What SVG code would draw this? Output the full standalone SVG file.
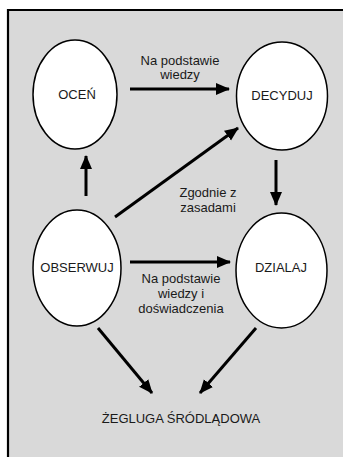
<svg xmlns="http://www.w3.org/2000/svg" width="343" height="457" viewBox="0 0 343 457">
<style>
.node ellipse{fill:#fff;stroke:#000;stroke-width:1.5}
text{font-family:"Liberation Sans",Arial,sans-serif;font-size:13px;fill:#1a1a1a;text-anchor:middle}
.conn line{stroke:#000;stroke-width:3;marker-end:url(#ah)}
</style>
<defs>
<marker id="ah" markerUnits="userSpaceOnUse" markerWidth="14" markerHeight="14" viewBox="0 0 14 14" refX="13" refY="7" orient="auto">
<path d="M0,1 L14,7 L0,13 Z" fill="#000"/>
</marker>
</defs>
<rect x="0" y="0" width="343" height="457" fill="#fff"/>
<rect x="8" y="10" width="340" height="452" fill="#d9d9d9"/>
<path d="M8,462 L8,10 L343,10" fill="none" stroke="#000" stroke-width="2.2"/>
<g class="conn">
<line x1="130" y1="89" x2="229" y2="89"/>
<line x1="86" y1="196" x2="86" y2="156"/>
<line x1="115" y1="217" x2="238" y2="128"/>
<line x1="276" y1="160" x2="276" y2="205"/>
<line x1="130" y1="262" x2="230" y2="262"/>
<line x1="98" y1="328" x2="152" y2="393"/>
<line x1="256" y1="328" x2="200" y2="393"/>
</g>
<g id="ocen" class="node"><ellipse cx="75" cy="94.5" rx="42" ry="54.5"/><text x="77" y="99">OCEŃ</text></g>
<g id="decyduj" class="node"><ellipse cx="282" cy="96" rx="45.5" ry="54"/><text x="282" y="100">DECYDUJ</text></g>
<g id="obserwuj" class="node"><ellipse cx="77" cy="268" rx="44" ry="58"/><text x="77" y="272">OBSERWUJ</text></g>
<g id="dzialaj" class="node"><ellipse cx="281.5" cy="270.5" rx="45.5" ry="57.5"/><text x="281" y="272">DZIALAJ</text></g>
<g id="labels">
<text x="180" y="65">Na podstawie</text>
<text x="180" y="79">wiedzy</text>
<text x="208" y="197">Zgodnie z</text>
<text x="208" y="212">zasadami</text>
<text x="181" y="283">Na podstawie</text>
<text x="181" y="298">wiedzy i</text>
<text x="181" y="313">doświadczenia</text>
<text x="181" y="423">ŻEGLUGA ŚRÓDLĄDOWA</text>
</g>
</svg>
